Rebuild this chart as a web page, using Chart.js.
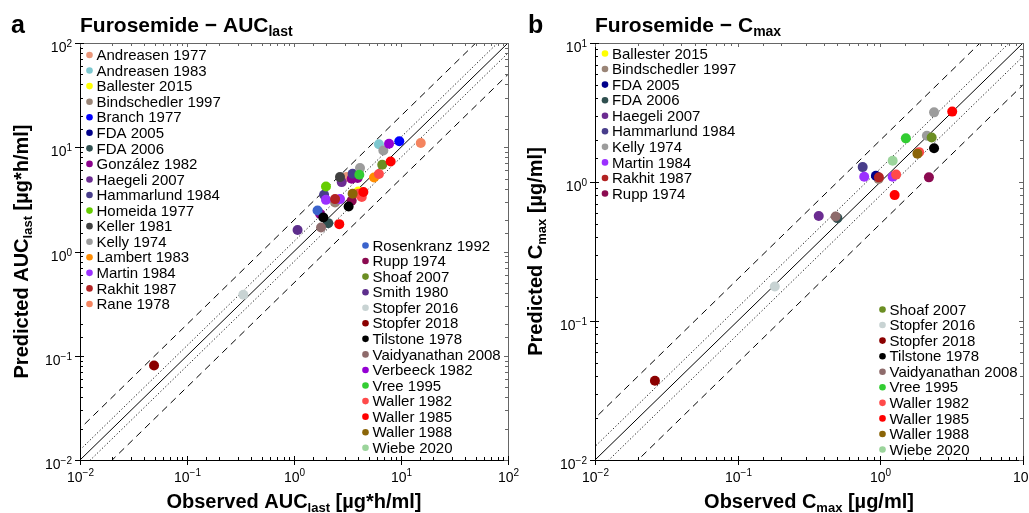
<!DOCTYPE html>
<html>
<head>
<meta charset="utf-8">
<script src="https://cdn.jsdelivr.net/npm/chart.js@4.4.0/dist/chart.umd.min.js"></script>
<style>
body { margin: 0; background: #fff; }
#wrap { position: relative; width: 1029px; height: 513px; overflow: hidden; background: #fff; }
canvas { position: absolute; top: 0; }
</style>
</head>
<body>
<div id="wrap">
  <canvas id="chartA" width="530" height="513" style="left:0;width:530px;height:513px"></canvas>
  <canvas id="chartB" width="515" height="513" style="left:514px;width:515px;height:513px"></canvas>
</div>
<script>
// --- panel a: AUClast, observed vs predicted [µg*h/ml] ---
var aucStudies = ['Andreasen 1977', 'Andreasen 1983', 'Ballester 2015', 'Bindschedler 1997', 'Branch 1977',
  'FDA 2005', 'FDA 2006', 'González 1982', 'Haegeli 2007', 'Hammarlund 1984', 'Homeida 1977', 'Keller 1981',
  'Kelly 1974', 'Lambert 1983', 'Martin 1984', 'Rakhit 1987', 'Rane 1978',
  'Rosenkranz 1992', 'Rupp 1974', 'Shoaf 2007', 'Smith 1980', 'Stopfer 2016', 'Stopfer 2018', 'Tilstone 1978',
  'Vaidyanathan 2008', 'Verbeeck 1982', 'Vree 1995', 'Waller 1982', 'Waller 1985', 'Waller 1988', 'Wiebe 2020'];
var aucObs = [[3.11], [6.22], [3.99], [2.42], [9.64],
  [], [2.09], [1.75, 3.46, 3.93], [2.79], [1.91, 3.53], [1.99], [2.69],
  [4.14, 6.84], [5.6], [1.99, 2.69], [2.42], [15.3],
  [1.66], [3.46], [6.68], [1.08], [0.336], [0.0492], [1.88, 3.24],
  [1.79], [7.73], [4.08], [3.99, 4.3, 6.22], [2.65, 4.45, 8.0], [3.53], []];
var aucPred = [[5.17], [10.7], [3.77], [2.95], [11.4],
  [], [1.87], [2.3, 4.99, 5.07], [4.63], [3.5, 5.57], [4.21], [5.17],
  [6.31, 9.31], [5.13], [3.13, 3.18], [3.18], [11.0],
  [2.47], [3.07], [6.79], [1.61], [0.384], [0.0805], [2.12, 2.7],
  [1.7], [10.8], [5.44], [3.58, 3.33, 5.53], [1.83, 3.72, 7.31], [3.58], []];

// --- panel b: Cmax, observed vs predicted [µg/ml] ---
var cmaxStudies = ['Ballester 2015', 'Bindschedler 1997', 'FDA 2005', 'FDA 2006', 'Haegeli 2007',
  'Hammarlund 1984', 'Kelly 1974', 'Martin 1984', 'Rakhit 1987', 'Rupp 1974',
  'Shoaf 2007', 'Stopfer 2016', 'Stopfer 2018', 'Tilstone 1978', 'Vaidyanathan 2008',
  'Vree 1995', 'Waller 1982', 'Waller 1985', 'Waller 1988', 'Wiebe 2020'];
var cmaxObs = [[], [0.972], [0.931], [0.5], [0.37],
  [0.752], [2.38, 2.12], [0.771, 1.22], [0.977], [2.19],
  [2.29], [0.182], [0.0263], [2.38], [0.486],
  [1.51], [1.29, 1.87], [3.19, 1.26], [1.82], [1.22]];
var cmaxPred = [[], [1.05], [1.11], [0.55], [0.569],
  [1.28], [3.17, 2.15], [1.09, 1.09], [1.08], [1.08],
  [2.09], [0.177], [0.0372], [1.75], [0.565],
  [2.06], [1.13, 1.64], [3.21, 0.805], [1.6], [1.42]];

// fold lines: identity, 1.25-fold, 2-fold
var foldFactors = [1, 1.25, 0.8, 2, 0.5];

var studyColors = {
  'Andreasen 1977': '#E9967A', 'Andreasen 1983': '#7EC8D0', 'Ballester 2015': '#FFFF00',
  'Bindschedler 1997': '#9A8577', 'Branch 1977': '#0000FF', 'FDA 2005': '#00008B', 'FDA 2006': '#2F4F4F',
  'González 1982': '#8B008B', 'Haegeli 2007': '#6B2C91', 'Hammarlund 1984': '#483D8B',
  'Homeida 1977': '#66CD00', 'Keller 1981': '#404040', 'Kelly 1974': '#9C9C9C', 'Lambert 1983': '#FF8C00',
  'Martin 1984': '#9B30FF', 'Rakhit 1987': '#B22222', 'Rane 1978': '#F4845F', 'Rosenkranz 1992': '#3A63CC',
  'Rupp 1974': '#8B0A50', 'Shoaf 2007': '#6B8E23', 'Smith 1980': '#5D2E8C', 'Stopfer 2016': '#C8D3D3',
  'Stopfer 2018': '#8B0000', 'Tilstone 1978': '#000000', 'Vaidyanathan 2008': '#8E6B6B',
  'Verbeeck 1982': '#9400D3', 'Vree 1995': '#32CD32', 'Waller 1982': '#FF4A4A', 'Waller 1985': '#FF0000',
  'Waller 1988': '#8B6508', 'Wiebe 2020': '#9BD49B'
};

var FONT = '"Liberation Sans", Arial, sans-serif';

function richText(ctx, parts, x, y, align) {
  var w = 0;
  parts.forEach(function (p) { ctx.font = p[1]; w += ctx.measureText(p[0]).width; });
  var cx = align === 'center' ? x - w / 2 : (align === 'right' ? x - w : x);
  ctx.textAlign = 'left';
  ctx.textBaseline = 'alphabetic';
  parts.forEach(function (p) {
    ctx.font = p[1];
    ctx.fillText(p[0], cx, y + (p[2] || 0));
    cx += ctx.measureText(p[0]).width;
  });
}

function isDecade(v) {
  var l = Math.log10(v);
  return Math.abs(l - Math.round(l)) < 1e-9;
}

function expLabel(v) {
  var e = Math.round(Math.log10(v));
  return e < 0 ? '\u2212' + (-e) : String(e);
}

// frame, inward ticks, tick labels, titles and the split legend
var decor = {
  id: 'decor',
  afterDraw: function (chart, args, o) {
    var ctx = chart.ctx, a = chart.chartArea, sx = chart.scales.x, sy = chart.scales.y;
    ctx.save();
    ctx.lineWidth = 1;

    // frame
    ctx.strokeStyle = '#666';
    ctx.beginPath();
    ctx.moveTo(a.left, a.top + 0.5); ctx.lineTo(a.right + 0.5, a.top + 0.5);
    ctx.lineTo(a.right + 0.5, a.bottom);
    ctx.stroke();
    ctx.strokeStyle = '#000';
    ctx.beginPath();
    ctx.moveTo(a.left + 0.5, a.top); ctx.lineTo(a.left + 0.5, a.bottom + 0.5);
    ctx.lineTo(a.right + 1, a.bottom + 0.5);
    ctx.stroke();

    // x ticks
    sx.ticks.forEach(function (t) {
      var p = Math.round(sx.getPixelForValue(t.value)) + 0.5;
      var maj = isDecade(t.value);
      ctx.strokeStyle = '#000';
      ctx.beginPath();
      ctx.moveTo(p, a.bottom - (maj ? 4 : 3)); ctx.lineTo(p, a.bottom + (maj ? 5 : 0));
      ctx.stroke();
      ctx.strokeStyle = '#666';
      ctx.beginPath();
      ctx.moveTo(p, a.top); ctx.lineTo(p, a.top + (maj ? 4 : 3));
      ctx.stroke();
      if (maj) {
        ctx.fillStyle = '#000';
        richText(ctx, [['10', '14px ' + FONT, 0], [expLabel(t.value), '10px ' + FONT, -6]], p, a.bottom + 22, 'center');
      }
    });
    // y ticks
    sy.ticks.forEach(function (t) {
      var p = Math.round(sy.getPixelForValue(t.value)) + 0.5;
      var maj = isDecade(t.value);
      ctx.strokeStyle = '#000';
      ctx.beginPath();
      ctx.moveTo(a.left - (maj ? 5 : 0), p); ctx.lineTo(a.left + (maj ? 4 : 3), p);
      ctx.stroke();
      ctx.strokeStyle = '#666';
      ctx.beginPath();
      ctx.moveTo(a.right, p); ctx.lineTo(a.right - (maj ? 4 : 3), p);
      ctx.stroke();
      if (maj) {
        ctx.fillStyle = '#000';
        richText(ctx, [['10', '14px ' + FONT, 0], [expLabel(t.value), '10px ' + FONT, -5]], a.left - 8, p + 8.5, 'right');
      }
    });

    // panel letter and title
    ctx.fillStyle = '#000';
    richText(ctx, [[o.letter, 'bold 25px ' + FONT, 0]], o.letterX, 33, 'left');
    richText(ctx, [['Furosemide \u2212 ' + o.qty, 'bold 21px ' + FONT, 0], [o.sub, 'bold 14px ' + FONT, 4]], a.left, 32, 'left');

    // axis titles
    var midX = (a.left + a.right) / 2, midY = (a.top + a.bottom) / 2;
    richText(ctx, [['Observed ' + o.qty, 'bold 20px ' + FONT, 0], [o.sub, 'bold 13px ' + FONT, 4],
      [' ' + o.unit, 'bold 20px ' + FONT, 0]], midX, 508, 'center');
    ctx.save();
    ctx.translate(28, midY);
    ctx.rotate(-Math.PI / 2);
    richText(ctx, [['Predicted ' + o.qty, 'bold 20px ' + FONT, 0], [o.sub, 'bold 13px ' + FONT, 4],
      [' ' + o.unit, 'bold 20px ' + FONT, 0]], 0, 0, 'center');
    ctx.restore();

    // legend in two blocks
    var names = o.studies;
    ctx.font = '15px ' + FONT;
    ctx.textBaseline = 'middle';
    ctx.textAlign = 'left';
    names.forEach(function (n, i) {
      var col = i < o.split ? o.col1 : o.col2;
      var k = i < o.split ? i : i - o.split;
      var yy = col.y + k * 15.56;
      ctx.fillStyle = studyColors[n];
      ctx.beginPath();
      ctx.arc(col.x, yy, 3.3, 0, Math.PI * 2);
      ctx.fill();
      ctx.fillStyle = '#000';
      ctx.fillText(n, col.x + 7, yy + 1);
    });
    ctx.restore();
  }
};

function makeChart(id, studies, obs, pred, xMax, yMax, yAxisWidth, padRight, deco) {
  // later studies are painted on top of earlier ones
  var datasets = studies.map(function (n, i) {
    return {
      label: n,
      data: obs[i].map(function (v, j) { return { x: v, y: pred[i][j] }; }),
      backgroundColor: studyColors[n],
      borderWidth: 0,
      pointRadius: 5,
      order: studies.length - i
    };
  });
  foldFactors.forEach(function (f) {
    var dashed = f === 2 || f === 0.5, dotted = f === 1.25 || f === 0.8;
    datasets.push({
      type: 'line',
      label: 'fold ' + f,
      data: [{ x: 0.001, y: 0.001 * f }, { x: 1000, y: 1000 * f }],
      borderColor: dotted ? '#111' : '#000',
      borderWidth: 1,
      borderDash: dashed ? [7, 5] : (dotted ? [1.2, 2.2] : []),
      pointRadius: 0,
      fill: false,
      order: 100
    });
  });
  return new Chart(document.getElementById(id), {
    type: 'scatter',
    data: { datasets: datasets },
    options: {
      responsive: false,
      animation: false,
      events: [],
      layout: { padding: { top: 43, right: padRight, left: 0, bottom: 0 } },
      scales: {
        x: {
          type: 'logarithmic', min: 0.01, max: xMax,
          ticks: { display: false }, grid: { display: false }, border: { display: false },
          afterFit: function (s) { s.height = 53; }
        },
        y: {
          type: 'logarithmic', min: 0.01, max: yMax,
          ticks: { display: false }, grid: { display: false }, border: { display: false },
          afterFit: function (s) { s.width = yAxisWidth; }
        }
      },
      plugins: {
        legend: { display: false },
        tooltip: { enabled: false },
        decor: deco
      }
    },
    plugins: [decor]
  });
}

makeChart('chartA', aucStudies, aucObs, aucPred, 100, 100, 80, 22, {
  letter: 'a', letterX: 11, qty: 'AUC', sub: 'last', unit: '[\u00b5g*h/ml]',
  studies: aucStudies, split: 17, col1: { x: 89.5, y: 55 }, col2: { x: 365.5, y: 245.5 }
});
makeChart('chartB', cmaxStudies, cmaxObs, cmaxPred, 10, 10, 81, 6, {
  letter: 'b', letterX: 14, qty: 'C', sub: 'max', unit: '[\u00b5g/ml]',
  studies: cmaxStudies, split: 10, col1: { x: 91, y: 53.5 }, col2: { x: 368.5, y: 309.5 }
});
</script>
</body>
</html>
